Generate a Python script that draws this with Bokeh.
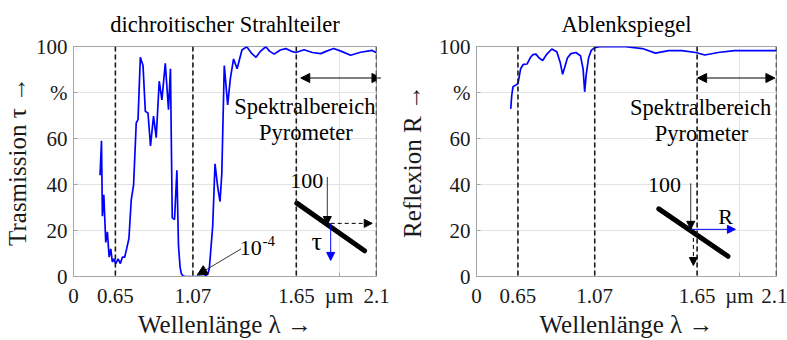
from bokeh.plotting import figure
from bokeh.models import FixedTicker, Arrow, NormalHead, Span
from bokeh.layouts import row
from bokeh.embed import file_html
from bokeh.resources import INLINE
from bokeh.core.properties import value

FONT = "Liberation Serif"

# ---------------- data ----------------
# dichroic beam splitter: transmission (%)
wl_dichro = [0.549, 0.557, 0.562, 0.570, 0.581, 0.590, 0.600, 0.609, 0.618, 0.627,
             0.637, 0.650, 0.663, 0.674, 0.687, 0.698, 0.711, 0.724, 0.737, 0.752,
             0.762, 0.775, 0.790, 0.803, 0.818, 0.832, 0.849, 0.864, 0.881, 0.896,
             0.915, 0.933, 0.944, 0.954, 0.967, 0.980, 0.989, 0.998, 1.005, 1.015,
             1.030, 1.130, 1.145, 1.155, 1.162, 1.181, 1.194, 1.209, 1.222, 1.232,
             1.246, 1.265, 1.280, 1.298, 1.318, 1.345, 1.372, 1.400, 1.424, 1.450,
             1.479, 1.500, 1.526, 1.560, 1.591, 1.620, 1.647, 1.694, 1.740, 1.787,
             1.820, 1.860, 1.900, 1.955, 2.010, 2.076, 2.100]
T_dichro = [44.0, 59.0, 26.2, 35.5, 14.8, 19.4, 8.4, 12.0, 6.3, 7.7,
            5.6, 7.7, 5.6, 8.4, 8.4, 12.0, 16.5, 33.3, 39.7, 66.8,
            68.2, 95.3, 91.7, 71.8, 71.1, 56.8, 69.7, 60.4, 84.9, 76.8,
            92.7, 72.5, 90.3, 25.5, 24.8, 46.2, 13.4, 4.1, 1.2, 0.2,
            0.0, 0.0, 0.4, 1.5, 3.4, 21.9, 49.0, 39.0, 32.6, 44.7,
            91.7, 74.6, 86.0, 94.6, 90.3, 98.5, 99.9, 97.0, 95.3, 98.0,
            99.9, 98.0, 96.7, 98.5, 99.1, 98.0, 97.4, 98.6, 97.4, 96.9,
            98.0, 99.1, 98.0, 96.2, 97.5, 98.3, 97.3]

# deflection mirror: reflection (%)
wl_mirror = [0.594, 0.600, 0.607, 0.622, 0.635, 0.650, 0.665, 0.687, 0.706, 0.720,
             0.737, 0.755, 0.775, 0.799, 0.827, 0.855, 0.874, 0.888, 0.900, 0.915,
             0.935, 0.963, 0.989, 1.004, 1.013, 1.022, 1.035, 1.050, 1.070, 1.097,
             1.246, 1.340, 1.414, 1.489, 1.563, 1.642, 1.694, 1.769, 1.861, 1.992,
             2.100]
R_mirror = [72.9, 79.0, 82.5, 83.2, 83.9, 90.3, 92.2, 92.4, 95.3, 96.5,
            96.7, 95.0, 93.9, 96.7, 98.9, 97.7, 93.2, 87.9, 91.0, 95.0,
            96.9, 97.4, 96.0, 90.3, 80.3, 88.0, 95.0, 98.3, 99.5, 99.9,
            99.9, 99.1, 97.1, 98.2, 98.2, 97.4, 96.3, 97.4, 98.2, 98.2,
            98.2]

# axes
x_ticks = [0.4, 0.635, 1.07, 1.65, 1.89, 2.1]
x_tick_labels = ["0", "0.65", "1.07", "1.65", "\u00b5m", "2.1"]
y_ticks = [0, 20, 40, 60, 80, 100]
y_tick_labels = ["0", "20", "40", "60", "%", "100"]
marker_wl = [0.635, 1.07, 1.65, 2.1]

# spectral range of the pyrometer
range_dichro = (1.675, 2.125, 86.3)
range_mirror = (1.653, 2.091, 86.3)

GRAY = "#a6a6a6"
TXT = "#1a1a1a"


def make_fig(width, bl, br, title, ylabel, ylab_standoff):
    p = figure(width=width, height=340, x_range=(0.4, 2.1), y_range=(0, 100),
               output_backend="svg", toolbar_location=None,
               min_border_left=bl, min_border_right=br,
               min_border_top=44, min_border_bottom=62)
    p.title.text = title
    p.title.align = "center"
    p.title.text_font = FONT
    p.title.text_font_size = "22.5px"
    p.title.text_font_style = "normal"
    p.title.text_color = "black"
    p.title.standoff = 19
    p.outline_line_color = GRAY
    p.outline_line_width = 1
    p.background_fill_color = "white"
    p.border_fill_color = "white"
    for ax in (p.xaxis, p.yaxis):
        ax.axis_line_color = GRAY
        ax.major_tick_line_color = GRAY
        ax.major_tick_in = 4
        ax.major_tick_out = 0
        ax.minor_tick_line_color = None
        ax.major_label_text_font = FONT
        ax.major_label_text_font_size = "21px"
        ax.major_label_text_color = TXT
        ax.axis_label_text_font = FONT
        ax.axis_label_text_font_size = "25px"
        ax.axis_label_text_font_style = "normal"
        ax.axis_label_text_color = TXT
    p.xaxis.ticker = FixedTicker(ticks=x_ticks)
    p.xaxis.major_label_overrides = {t: l for t, l in zip(x_ticks, x_tick_labels)}
    p.yaxis.ticker = FixedTicker(ticks=y_ticks)
    p.yaxis.major_label_overrides = {t: l for t, l in zip(y_ticks, y_tick_labels)}
    p.xaxis.major_label_standoff = 7
    p.xaxis.axis_label_standoff = 0
    p.yaxis.major_label_standoff = 6
    p.yaxis.axis_label_standoff = ylab_standoff
    p.xaxis.axis_label = "Wellenlänge λ →"
    p.yaxis.axis_label = ylabel
    p.xgrid.ticker = FixedTicker(ticks=x_ticks)
    p.ygrid.ticker = FixedTicker(ticks=y_ticks)
    p.grid.grid_line_color = "#e3e3e3"
    p.grid.grid_line_width = 1
    for m in marker_wl:
        p.add_layout(Span(location=m, dimension="height", line_color="#1a1a1a",
                          line_width=1.6, line_dash="5 3"))
    return p


def head(color, size=9):
    return NormalHead(size=size, fill_color=color, line_color=color)


def txt(p, x, y, s, size="21px", color="black", align="center"):
    p.text(x=[x], y=[y], text=[s], text_font=value(FONT), text_font_size=size,
           text_color=color, text_align=align, text_baseline="middle")


# ---------------- left: dichroic beam splitter ----------------
p1 = make_fig(395, 72, 19, "dichroitischer Strahlteiler", "Trasmission τ →", 2)
p1.line(wl_dichro, T_dichro, line_color="#0000ff", line_width=1.7)

x0, x1, yr = range_dichro
p1.add_layout(Arrow(start=head("black"), end=head("black"), x_start=x0, y_start=yr,
                    x_end=x1, y_end=yr, line_color="black", line_width=1.2))
txt(p1, 1.698, 73.9, "Spektralbereich", "22.5px")
txt(p1, 1.704, 62.4, "Pyrometer", "22.5px")

# 10^-4 annotation
p1.add_layout(Arrow(end=head("black", 10), x_start=1.34, y_start=12.0,
                    x_end=1.094, y_end=0.6, line_color="black", line_width=0.8))
txt(p1, 1.395, 12.4, "10", "22px")
txt(p1, 1.496, 15.4, "-4", "15px")

# inset sketch
p1.line([1.653, 2.033], [31.9, 11.2], line_color="black", line_width=5, line_cap="round")
p1.add_layout(Arrow(end=head("black", 8), x_start=1.824, y_start=43.3,
                    x_end=1.824, y_end=22.6, line_color="black", line_width=0.8))
p1.add_layout(Arrow(end=head("black", 8), x_start=1.843, y_start=23.1,
                    x_end=2.076, y_end=23.1, line_color="black", line_width=1,
                    line_dash="4 3"))
p1.add_layout(Arrow(end=head("#0000ff", 8), x_start=1.843, y_start=23.1,
                    x_end=1.843, y_end=7.0, line_color="#0000ff", line_width=1))
txt(p1, 1.709, 41.5, "100", "22px")
txt(p1, 1.765, 15.4, "τ", "26px")

# ---------------- right: deflection mirror ----------------
p2 = make_fig(392, 77, 11, "Ablenkspiegel", "Reflexion R →", 10)
p2.line(wl_mirror, R_mirror, line_color="#0000ff", line_width=1.7)

x0, x1, yr = range_mirror
p2.add_layout(Arrow(start=head("black"), end=head("black"), x_start=x0, y_start=yr,
                    x_end=x1, y_end=yr, line_color="black", line_width=1.2))
txt(p2, 1.670, 73.5, "Spektralbereich", "22.5px")
txt(p2, 1.675, 62.0, "Pyrometer", "22.5px")

p2.line([1.433, 1.825], [29.4, 8.8], line_color="black", line_width=5, line_cap="round")
p2.add_layout(Arrow(end=head("black", 8), x_start=1.614, y_start=40.5,
                    x_end=1.614, y_end=20.5, line_color="black", line_width=0.8))
p2.add_layout(Arrow(end=head("#0000ff", 8), x_start=1.614, y_start=20.5,
                    x_end=1.867, y_end=20.5, line_color="#0000ff", line_width=1))
p2.add_layout(Arrow(end=head("black", 8), x_start=1.629, y_start=19.8,
                    x_end=1.629, y_end=4.8, line_color="black", line_width=1,
                    line_dash="4 3"))
txt(p2, 1.465, 39.7, "100", "22px")
txt(p2, 1.812, 26.3, "R", "22px")

layout = row(p1, p2)
open("out.html", "w").write(file_html(layout, INLINE))
